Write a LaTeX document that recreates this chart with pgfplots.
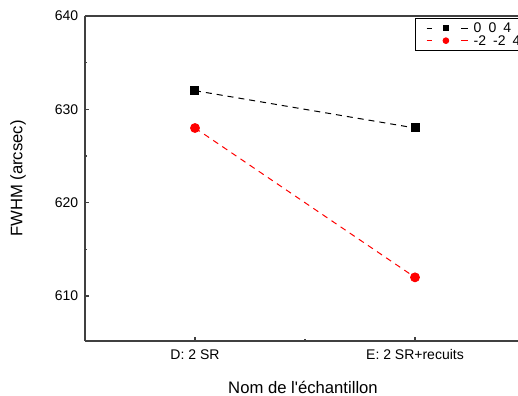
\documentclass[border=0pt]{standalone}
\usepackage{pgfplots}
\pgfplotsset{compat=1.18}
\usepackage{fontspec}
\setmainfont{Liberation Sans}[Ligatures=TeXOff]
\begin{document}
\begin{tikzpicture}[trim left=-63.75pt, trim right=324.75pt]
\begin{scope}
\clip (-63.75pt,-41.25pt) rectangle (324.75pt,255.75pt);
\begin{axis}[
  scale only axis,
  width=346.5pt, height=243.75pt,
  xmin=-0.5, xmax=1.6,
  ymin=605.18, ymax=640,
  axis y line*=left,
  xtick={0,1},
  xticklabels={D: 2 SR, E: 2 SR+recuits},
  minor xtick={0.5},
  ytick={610,620,630,640},
  minor ytick={615,625,635},
  tick pos=left,
  tick align=inside,
  major tick length=3pt,
  minor tick length=1.8pt,
  axis line style={black!75, line width=1.1pt},
  every tick/.style={black!75, line width=0.9pt},
  /pgf/number format/assume math mode=true,
  /pgf/number format/1000 sep={},
  tick label style={font=\fontsize{10.5pt}{12pt}\selectfont, black},
  yticklabel style={xshift=-1.5pt},
  xticklabel style={yshift=-3pt},
  xlabel={Nom de l'échantillon},
  ylabel={FWHM (arcsec)},
  label style={font=\fontsize{12.5pt}{14pt}\selectfont},
  xlabel style={at={(axis description cs:0.4719,-0.1415)}, anchor=center},
  ylabel style={at={(axis description cs:-0.145,0.5)}, anchor=center},
  legend cell align=left,
  legend style={at={(axis description cs:0.7143,0.9938)}, anchor=north west,
    draw=black, line width=0.6pt, inner xsep=0pt, inner ysep=2.6pt,
    font=\fontsize{10.5pt}{11pt}\selectfont, row sep=0pt,
    nodes={inner ysep=0.4pt, inner xsep=1pt, text height=7.7pt, text depth=0.9pt}},
  legend image code/.code={%
    \path (0pt,0pt) (42pt,0pt);
    \draw[#1, solid] (8pt,0pt) -- (12pt,0pt);
    \draw[#1, solid] (34pt,0pt) -- (39pt,0pt);
    \draw[#1, only marks, mark size=2.1pt] plot coordinates {(22.5pt,0pt)};},
]
\addplot[black, line width=0.75pt, dash pattern=on 4.5pt off 3.75pt,
  mark=square*, mark size=3pt, mark options={solid}]
  coordinates {(0,632) (1,628)};
\addlegendentry{0\hspace{0.5em}0\hspace{0.5em}4}
\addplot[red, line width=0.75pt, dash pattern=on 4.5pt off 3.75pt,
  mark=*, mark size=3.3pt, mark options={solid}]
  coordinates {(0,628) (1,612)};
\addlegendentry{-2\hspace{0.5em}-2\hspace{0.5em}4}
\end{axis}
\end{scope}
\pgfresetboundingbox
\useasboundingbox (-63.75pt,-41.25pt) rectangle (324.75pt,255.75pt);
\end{tikzpicture}
\end{document}
